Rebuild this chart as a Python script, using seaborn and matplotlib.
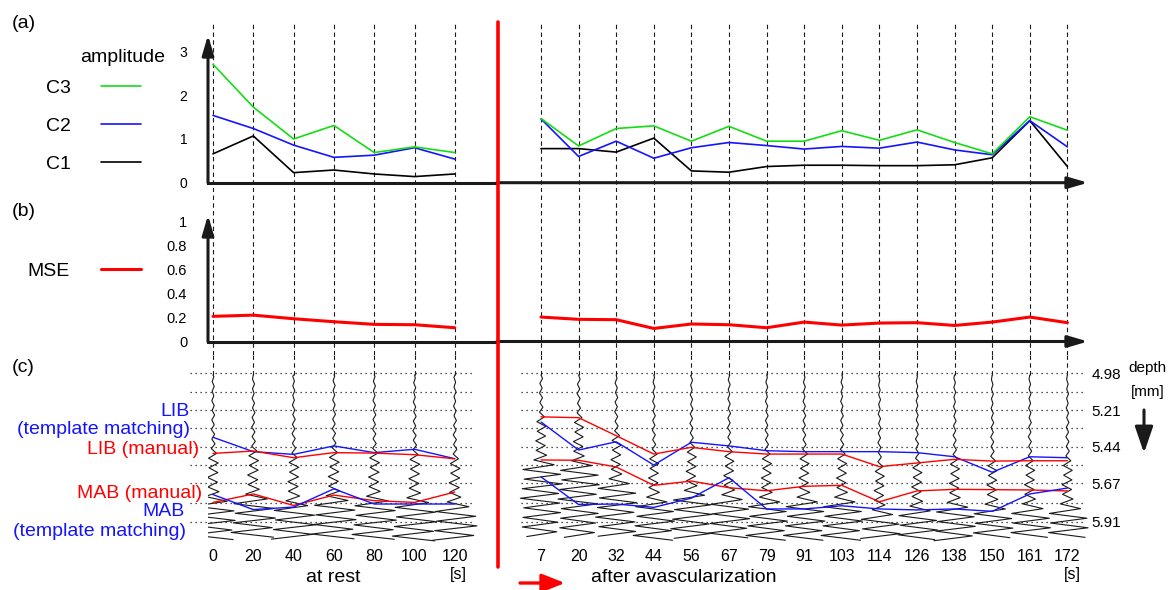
import numpy as np
import matplotlib.pyplot as plt
from matplotlib.lines import Line2D
import seaborn as sns

# ---- data ----
rest_times = [0, 20, 40, 60, 80, 100, 120]
after_times = [7, 20, 32, 44, 56, 67, 79, 91, 103, 114, 126, 138, 150, 161, 172]

# (a) amplitude
c3_rest = [2.71, 1.73, 1.00, 1.31, 0.69, 0.82, 0.69]
c2_rest = [1.54, 1.24, 0.86, 0.58, 0.63, 0.80, 0.54]
c1_rest = [0.66, 1.07, 0.23, 0.29, 0.20, 0.14, 0.20]
c3_after = [1.47, 0.84, 1.24, 1.30, 0.95, 1.29, 0.95, 0.95, 1.19, 0.97, 1.21, 0.92, 0.66, 1.51, 1.20]
c2_after = [1.46, 0.60, 0.95, 0.56, 0.80, 0.92, 0.85, 0.77, 0.83, 0.79, 0.93, 0.75, 0.64, 1.42, 0.82]
c1_after = [0.78, 0.78, 0.70, 1.02, 0.27, 0.24, 0.37, 0.40, 0.40, 0.39, 0.39, 0.41, 0.57, 1.42, 0.37]

# (b) MSE
mse_rest = [0.21, 0.22, 0.19, 0.165, 0.143, 0.14, 0.115]
mse_after = [0.204, 0.185, 0.182, 0.109, 0.146, 0.14, 0.115, 0.162, 0.137, 0.154, 0.157, 0.134, 0.162, 0.204, 0.157]

# (c) boundary depths [mm]
lib_tm_rest = [5.381, 5.471, 5.488, 5.435, 5.477, 5.456, 5.515]
lib_man_rest = [5.482, 5.467, 5.509, 5.477, 5.480, 5.490, 5.516]
mab_man_rest = [5.789, 5.736, 5.808, 5.743, 5.778, 5.789, 5.724]
mab_tm_rest = [5.740, 5.834, 5.818, 5.704, 5.799, 5.799, 5.799]
lib_man_after = [5.253, 5.258, 5.371, 5.486, 5.444, 5.471, 5.486, 5.486, 5.486, 5.565, 5.542, 5.519, 5.530, 5.528, 5.528]
lib_tm_after = [5.285, 5.461, 5.409, 5.555, 5.412, 5.435, 5.465, 5.471, 5.471, 5.471, 5.477, 5.503, 5.600, 5.503, 5.509]
mab_man_after = [5.523, 5.525, 5.567, 5.682, 5.655, 5.697, 5.716, 5.688, 5.682, 5.785, 5.717, 5.707, 5.709, 5.711, 5.717]
mab_tm_after = [5.629, 5.802, 5.799, 5.820, 5.762, 5.634, 5.830, 5.830, 5.810, 5.830, 5.836, 5.830, 5.845, 5.736, 5.699]
depth_ticks = [4.98, 5.21, 5.44, 5.67, 5.91]

# rough RF echo shape, sampled every 0.03 mm starting 0.72 mm above the manual LIB
rf_wave = [
    0.01, -0.02, 0.02, -0.01, 0.02, -0.02, 0.01, -0.02,
    0.02, -0.02, 0.03, -0.02, 0.02, -0.03, 0.03, -0.02,
    0.04, -0.03, 0.03, -0.04, 0.04, -0.03, 0.05, -0.04,
    0.09, -0.11, 0.13, -0.10, 0.12, -0.14, 0.11, -0.13, 0.15, -0.19,
    0.35, -0.48, 0.52, -0.45, 0.55, -0.50, 0.47, -0.55, 0.50,
    -0.46, 0.52, -0.48, 0.45, -0.50, 0.42, -0.38, 0.30,
]

sns.set_theme(style='white')
plt.rcParams['font.family'] = ['Liberation Sans', 'DejaVu Sans']
plt.rcParams['text.color'] = 'black'
plt.rcParams['xtick.color'] = 'black'
plt.rcParams['ytick.color'] = 'black'

W, H = 1172, 590
fig = plt.figure(figsize=(W / 100, H / 100), dpi=100)

GREEN, BLUE, RED = '#14dd14', '#1414ff', '#ff0000'

# pixel layout of the original figure
REST_X0, REST_DX = 213, 40.3
AFT_X0, AFT_DX = 541, 37.6
Y_AXIS, SPLIT, X_END = 208, 497, 1090


def rest_ix(p):
    return (p - REST_X0) / REST_DX


def aft_ix(p):
    return (p - AFT_X0) / AFT_DX


def box(x0, x1, y0, y1):
    return [x0 / W, 1 - y1 / H, (x1 - x0) / W, (y1 - y0) / H]


def ftext(x, y, s, **kw):
    kw.setdefault('va', 'center')
    kw.setdefault('fontsize', 14)
    fig.text(x / W, 1 - y / H, s, **kw)


rows = {'a': (22, 192), 'b': (192, 355), 'c': (355, 545)}
ax = {}
for key, (y0, y1) in rows.items():
    axL = fig.add_axes(box(Y_AXIS, SPLIT, y0, y1))
    axR = fig.add_axes(box(SPLIT, X_END, y0, y1))
    axL.set_xlim(rest_ix(Y_AXIS), rest_ix(SPLIT))
    axR.set_xlim(aft_ix(SPLIT), aft_ix(X_END))
    for a in (axL, axR):
        a.patch.set_alpha(0)
        for s in a.spines.values():
            s.set_visible(False)
        a.set_xticks([])
        a.set_yticks([])
    ax[key] = (axL, axR)

# y limits from pixel calibration
ax['a'][0].set_ylim(-(192 - 182.7) / 43.7, (182.7 - 22) / 43.7)
ax['a'][1].set_ylim(ax['a'][0].get_ylim())
ax['b'][0].set_ylim(-(355 - 341.5) / 119.8, (341.5 - 192) / 119.8)
ax['b'][1].set_ylim(ax['b'][0].get_ylim())
ax['c'][0].set_ylim(4.98 + (545 - 373.3) / 159.6, 4.98 - (373.3 - 355) / 159.6)
ax['c'][1].set_ylim(ax['c'][0].get_ylim())

dash = (0, (4, 3))
ri = list(range(len(rest_times)))
ai = list(range(len(after_times)))

# vertical dashed guides
for key in ('a', 'b'):
    for a, idx in zip(ax[key], (ri, ai)):
        for i in idx:
            a.axvline(i, color='k', lw=0.8, ls=dash, zorder=0)
for a, idx in zip(ax['c'], (ri, ai)):
    a.vlines(idx, a.get_ylim()[1], 4.99, color='k', lw=0.8, linestyles=dash, zorder=0)

arrow_kw = dict(arrowstyle='-|>,head_length=12,head_width=3.5', color='k', lw=2.2,
                mutation_scale=1, shrinkA=0, shrinkB=0)

# ---- (a) amplitude ----
aL, aR = ax['a']
for vals_r, vals_a, col, lab in ((c1_rest, c1_after, 'black', 'C1'),
                                 (c2_rest, c2_after, BLUE, 'C2'),
                                 (c3_rest, c3_after, GREEN, 'C3')):
    sns.lineplot(x=ri, y=vals_r, color=col, lw=1.2, ax=aL, label=lab)
    sns.lineplot(x=ai, y=vals_a, color=col, lw=1.2, ax=aR, legend=False)

# ---- (b) MSE ----
bL, bR = ax['b']
sns.lineplot(x=ri, y=mse_rest, color=RED, lw=2.2, ax=bL, label='MSE')
sns.lineplot(x=ai, y=mse_after, color=RED, lw=2.2, ax=bR, legend=False)

# axes with arrows for (a) and (b)
for key, top in (('a', (182.7 - 35) / 43.7), ('b', (341.5 - 215) / 119.8)):
    L, R = ax[key]
    L.plot(L.get_xlim(), [0, 0], color='k', lw=2.2, solid_capstyle='projecting', clip_on=False)
    L.annotate('', xy=(rest_ix(Y_AXIS), top), xytext=(rest_ix(Y_AXIS), 0),
               arrowprops=arrow_kw, annotation_clip=False)
    R.annotate('', xy=(aft_ix(1088), 0), xytext=(aft_ix(SPLIT), 0),
               arrowprops=arrow_kw, annotation_clip=False)
    for a in (L, R):
        a.set_xlabel('')
        a.set_ylabel('')

aL.set_yticks([0, 1, 2, 3])
aL.tick_params(axis='y', length=0, pad=15, labelsize=10, left=True, labelleft=True)
bL.set_yticks([0, 0.2, 0.4, 0.6, 0.8, 1], labels=['0', '0.2', '0.4', '0.6', '0.8', '1'])
bL.tick_params(axis='y', length=0, pad=15, labelsize=10.5, left=True, labelleft=True)

h, l = aL.get_legend_handles_labels()
aL.legend(h[::-1], l[::-1], markerfirst=False, frameon=False, loc='upper right',
          bbox_to_anchor=(141 / W, 1 - 79 / H), bbox_transform=fig.transFigure,
          fontsize=14, handlelength=2.05, handletextpad=1.55, labelspacing=1.05,
          borderpad=0, borderaxespad=0)
bL.legend(markerfirst=False, frameon=False, loc='upper right',
          bbox_to_anchor=(141 / W, 1 - 262 / H), bbox_transform=fig.transFigure,
          fontsize=14, handlelength=2.05, handletextpad=1.6, borderpad=0, borderaxespad=0)

# ---- (c) boundaries over RF lines ----
cL, cR = ax['c']
grid = sorted(depth_ticks + [(p + q) / 2 for p, q in zip(depth_ticks, depth_ticks[1:])])
cL.hlines(grid, rest_ix(190), rest_ix(472), colors='k', lw=0.9, linestyles=(0, (1, 3)), clip_on=False)
cR.hlines(grid, aft_ix(521), aft_ix(1083), colors='k', lw=0.9, linestyles=(0, (1, 3)), clip_on=False)

rel = np.arange(len(rf_wave)) * 0.03 - 0.72
wave = np.array(rf_wave)
for a, libs in ((cL, lib_man_rest), (cR, lib_man_after)):
    for i, lib in enumerate(libs):
        d = lib + rel
        keep = (d > 4.99) & (d <= 6.03)
        a.plot(np.r_[i, i + wave[keep]], np.r_[4.99, d[keep]], color='k', lw=0.8, zorder=1)

for a, idx, series in ((cL, ri, (lib_tm_rest, lib_man_rest, mab_man_rest, mab_tm_rest)),
                       (cR, ai, (lib_tm_after, lib_man_after, mab_man_after, mab_tm_after))):
    for vals, col in zip(series, (BLUE, RED, RED, BLUE)):
        sns.lineplot(x=idx, y=vals, color=col, lw=1.0, ax=a, legend=False, zorder=3)
    a.set_xlabel('')
    a.set_ylabel('')

cL.set_xticks(ri, labels=[str(t) for t in rest_times])
cR.set_xticks(ai, labels=[str(t) for t in after_times])
for a in (cL, cR):
    a.tick_params(axis='x', length=0, pad=3, labelsize=11.5, bottom=True, labelbottom=True)
cR.set_yticks(depth_ticks, labels=[f'{d:.2f}' for d in depth_ticks])
cR.tick_params(axis='y', length=0, pad=1, labelsize=11, left=False, labelleft=False,
               right=True, labelright=True)

# ---- annotations ----
ftext(12, 23, '(a)')
ftext(12, 212, '(b)')
ftext(12, 367, '(c)')
ftext(165, 57, 'amplitude', ha='right')

ftext(190, 411, 'LIB', ha='right', color=BLUE)
ftext(190, 430, '(template matching)', ha='right', color=BLUE)
ftext(199, 450, 'LIB (manual)', ha='right', color=RED)
ftext(202, 493, 'MAB (manual)', ha='right', color=RED)
ftext(185, 512, 'MAB', ha='right', color=BLUE)
ftext(186, 532, '(template matching)', ha='right', color=BLUE)

ftext(333, 577, 'at rest', ha='center')
ftext(458, 575, '[s]', ha='center', fontsize=11.5)
ftext(684, 577, 'after avascularization', ha='center')
ftext(1072, 575, '[s]', ha='center', fontsize=11.5)
ftext(1147, 368, 'depth', ha='center', fontsize=11)
ftext(1148, 392, '[mm]', ha='center', fontsize=11)

fig.add_artist(Line2D([498 / W, 498 / W], [1 - 22 / H, 1 - 567 / H], color=RED, lw=2.6,
                      transform=fig.transFigure))
cR.annotate('', xy=(565, H - 583), xytext=(520, H - 583), xycoords='figure pixels',
            textcoords='figure pixels', annotation_clip=False,
            arrowprops=dict(arrowstyle='-|>,head_length=14,head_width=5.5', color=RED, lw=2.4,
                            mutation_scale=1, shrinkA=0, shrinkB=0))
cR.annotate('', xy=(1144, H - 453), xytext=(1144, H - 410), xycoords='figure pixels',
            textcoords='figure pixels', annotation_clip=False,
            arrowprops=dict(arrowstyle='-|>,head_length=16,head_width=5.5', color='k', lw=2.2,
                            mutation_scale=1, shrinkA=0, shrinkB=0))

fig.savefig('out.png', dpi=100)
